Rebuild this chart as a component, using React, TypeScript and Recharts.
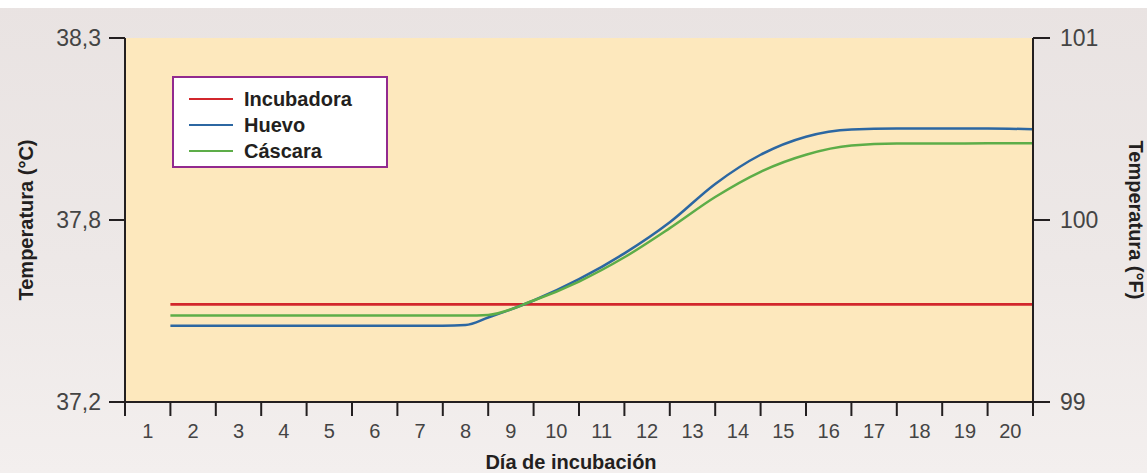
import { LineChart, Line, XAxis, YAxis, CartesianGrid, Legend } from "recharts";

// días (mitad de cada intervalo) y temperaturas en °C
const dias = [1.5, 2.5, 3.5, 4.5, 5.5, 6.5, 7.5, 8, 8.5, 9.5, 10.5, 11.5, 12.5, 13.5, 14.5, 15.5, 16.5, 17.5, 18.5, 19.5, 20.5];
const incubadora = [37.52, 37.52, 37.52, 37.52, 37.52, 37.52, 37.52, 37.52, 37.52, 37.52, 37.52, 37.52, 37.52, 37.52, 37.52, 37.52, 37.52, 37.52, 37.52, 37.52, 37.52];
const huevo = [37.455, 37.455, 37.455, 37.455, 37.455, 37.455, 37.455, 37.457, 37.48, 37.532, 37.597, 37.676, 37.771, 37.888, 37.977, 38.032, 38.054, 38.057, 38.057, 38.057, 38.055];
const cascara = [37.486, 37.486, 37.486, 37.486, 37.486, 37.486, 37.486, 37.486, 37.488, 37.532, 37.59, 37.664, 37.753, 37.848, 37.925, 37.977, 38.005, 38.011, 38.011, 38.012, 38.012];

const series = ["Incubadora", "Huevo", "Cáscara"];
const etiquetasDias = [1, 2, 3, 4, 5, 6, 7, 8, 9, 10, 11, 12, 13, 14, 15, 16, 17, 18, 19, 20];
const marcasDias = [0.5, 1.5, 2.5, 3.5, 4.5, 5.5, 6.5, 7.5, 8.5, 9.5, 10.5, 11.5, 12.5, 13.5, 14.5, 15.5, 16.5, 17.5, 18.5, 19.5, 20.5];
const ticksF = [99, 100, 101];

const aCelsius = (f: number) => ((f - 32) * 5) / 9;
const ticksC = ticksF.map(aCelsius);

const data = dias.map((dia, i) => ({
  dia,
  incubadora: incubadora[i],
  huevo: huevo[i],
  cascara: cascara[i],
}));

const FONT = '"Liberation Sans", Arial, Helvetica, sans-serif';
const INK = "#231f20";

function LeyendaCaja({ payload }: any) {
  const items = [...(payload || [])].sort((a: any, b: any) => series.indexOf(a.value) - series.indexOf(b.value));
  return (
    <div
      style={{
        background: "#fff",
        border: "2.5px solid #922a8f",
        padding: "8px 0 8px 15px",
        boxSizing: "border-box",
        width: 216,
        height: 92,
      }}
    >
      {items.map((p: any) => (
        <div key={p.value} style={{ display: "flex", alignItems: "center", height: 26 }}>
          <span style={{ width: 44, height: 2.5, background: p.color, marginRight: 11 }} />
          <span style={{ fontFamily: FONT, fontWeight: 700, fontSize: 20, color: INK }}>{p.value}</span>
        </div>
      ))}
    </div>
  );
}

export default function App() {
  return (
    <div
      style={{
        position: "relative",
        width: 1147,
        height: 473,
        background: "linear-gradient(180deg, #e9e3e2 0%, #ede8e7 55%, #f3efee 100%)",
        fontFamily: FONT,
      }}
    >
      <style>{`body{margin:0}`}</style>
      <div style={{ position: "absolute", left: 0, top: 0, width: 1147, height: 8, background: "#fff" }} />
      <LineChart width={1147} height={473} data={data} margin={{ top: 38, right: 0, bottom: 0, left: 0 }}>
        <CartesianGrid horizontal={false} vertical={false} fill="#fde8bd" fillOpacity={1} />
        <XAxis
          dataKey="dia"
          type="number"
          domain={[0.5, 20.5]}
          allowDataOverflow
          ticks={marcasDias}
          interval={0}
          height={1}
          tickFormatter={() => ""}
          tickSize={14}
          tickLine={{ stroke: INK, strokeWidth: 2 }}
          axisLine={{ stroke: INK, strokeWidth: 2 }}
        />
        <XAxis
          xAxisId="dias"
          dataKey="dia"
          type="number"
          domain={[0.5, 20.5]}
          allowDataOverflow
          ticks={etiquetasDias}
          interval={0}
          height={70}
          axisLine={false}
          tickLine={false}
          tickSize={14}
          tickMargin={7}
          tick={{ fill: "#444", fontSize: 20, fontFamily: FONT }}
          label={{
            value: "Día de incubación",
            position: "insideBottom",
            offset: 4,
            dx: -8,
            style: { fontFamily: FONT, fontWeight: 700, fontSize: 20, fill: INK },
          }}
        />
        <YAxis
          type="number"
          domain={[ticksC[0], ticksC[2]]}
          allowDataOverflow
          ticks={ticksC}
          interval={0}
          width={125}
          tickSize={16}
          tickMargin={8}
          tickFormatter={(v: number) => v.toFixed(1).replace(".", ",")}
          tick={{ fill: "#444", fontSize: 23, fontFamily: FONT }}
          tickLine={{ stroke: INK, strokeWidth: 2 }}
          axisLine={{ stroke: INK, strokeWidth: 2 }}
          label={{
            value: "Temperatura (°C)",
            angle: -90,
            position: "insideLeft",
            offset: 26,
            style: { textAnchor: "middle", fontFamily: FONT, fontWeight: 700, fontSize: 20, fill: INK },
          }}
        />
        <YAxis
          yAxisId="f"
          orientation="right"
          type="number"
          domain={[ticksF[0], ticksF[2]]}
          allowDataOverflow
          ticks={ticksF}
          interval={0}
          width={114}
          tickSize={17}
          tickMargin={10}
          tick={{ fill: "#444", fontSize: 23, fontFamily: FONT }}
          tickLine={{ stroke: INK, strokeWidth: 2 }}
          axisLine={{ stroke: INK, strokeWidth: 2 }}
          label={{
            value: "Temperatura (°F)",
            angle: 90,
            position: "insideRight",
            offset: 11,
            style: { textAnchor: "middle", fontFamily: FONT, fontWeight: 700, fontSize: 20, fill: INK },
          }}
        />
        <Legend
          layout="vertical"
          align="center"
          verticalAlign="middle"
          wrapperStyle={{ left: 172, top: 76, width: 216 }}
          content={<LeyendaCaja />}
        />
        <Line xAxisId="dias" type="monotone" dataKey="incubadora" name="Incubadora" stroke="#d2262c" strokeWidth={2.8} dot={false} isAnimationActive={false} />
        <Line xAxisId="dias" type="monotone" dataKey="huevo" name="Huevo" stroke="#2c67a2" strokeWidth={2.5} dot={false} isAnimationActive={false} />
        <Line xAxisId="dias" type="monotone" dataKey="cascara" name="Cáscara" stroke="#5dad48" strokeWidth={2.5} dot={false} isAnimationActive={false} />
      </LineChart>
    </div>
  );
}
